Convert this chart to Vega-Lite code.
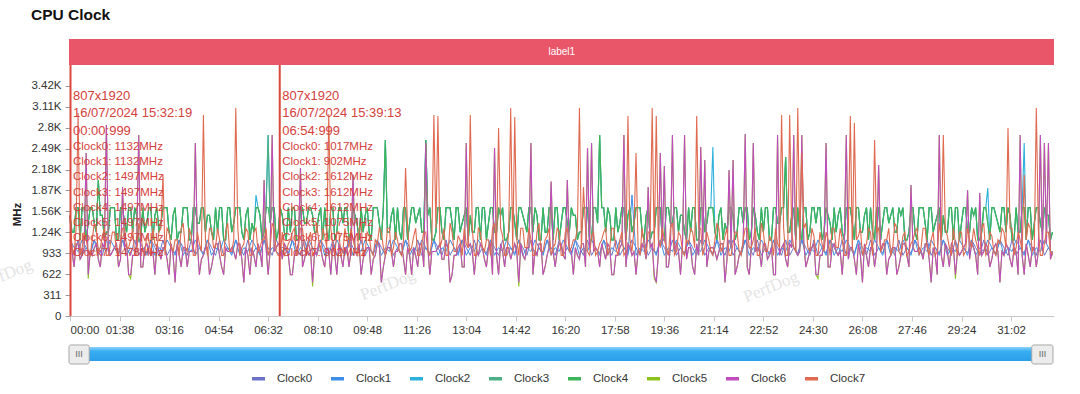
{
"$schema":"https://vega.github.io/schema/vega-lite/v6.json",
"width":984,"height":277,
"autosize":{"type":"none"},
"padding":{"left":70,"top":39,"right":26,"bottom":78},
"background":"#ffffff",
"config":{"view":{"stroke":null},"font":"Liberation Sans"},
"title":{"text":"CPU Clock","anchor":"start","frame":"group","fontSize":15.5,"fontWeight":"bold","color":"#111111","dx":-39,"offset":3.5,"baseline":"alphabetic"},
"datasets":{
"markers":[
{"t":1,"head":"807x1920\n16/07/2024 15:32:19\n00:00:999","clocks":"Clock0: 1132MHz\nClock1: 1132MHz\nClock2: 1497MHz\nClock3: 1497MHz\nClock4: 1497MHz\nClock5: 1497MHz\nClock6: 1497MHz\nClock7: 1478MHz"},
{"t":415,"head":"807x1920\n16/07/2024 15:39:13\n06:54:999","clocks":"Clock0: 1017MHz\nClock1: 902MHz\nClock2: 1612MHz\nClock3: 1612MHz\nClock4: 1612MHz\nClock5: 1075MHz\nClock6: 1075MHz\nClock7: 902MHz"}
],
"little":[
{"t":0,"a":1132,"b":1132},{"t":8,"a":902,"b":1017},{"t":16,"a":1132,"b":960},{"t":24,"a":902,"b":1132},{"t":32,"a":1017,"b":1017},{"t":40,"a":933,"b":902},{"t":48,"a":1132,"b":1132},{"t":56,"a":1017,"b":902},
{"t":64,"a":902,"b":1017},{"t":72,"a":1132,"b":960},{"t":80,"a":902,"b":1132},{"t":88,"a":1017,"b":1017},{"t":96,"a":933,"b":902},{"t":104,"a":1132,"b":1132},{"t":112,"a":1017,"b":902},{"t":120,"a":902,"b":1017},
{"t":128,"a":1132,"b":960},{"t":136,"a":902,"b":1132},{"t":144,"a":1017,"b":1017},{"t":152,"a":933,"b":902},{"t":160,"a":1132,"b":1132},{"t":168,"a":1017,"b":902},{"t":176,"a":902,"b":1017},{"t":184,"a":1132,"b":960},
{"t":192,"a":902,"b":1132},{"t":200,"a":1017,"b":1017},{"t":208,"a":933,"b":902},{"t":216,"a":1132,"b":1132},{"t":224,"a":1017,"b":902},{"t":232,"a":902,"b":1017},{"t":240,"a":1132,"b":960},{"t":248,"a":902,"b":1132},
{"t":256,"a":1017,"b":1017},{"t":264,"a":933,"b":902},{"t":272,"a":1132,"b":1132},{"t":280,"a":1017,"b":902},{"t":288,"a":902,"b":1017},{"t":296,"a":1132,"b":960},{"t":304,"a":902,"b":1132},{"t":312,"a":1017,"b":1017},
{"t":320,"a":933,"b":902},{"t":328,"a":1132,"b":1132},{"t":336,"a":1017,"b":902},{"t":344,"a":902,"b":1017},{"t":352,"a":1132,"b":960},{"t":360,"a":902,"b":1132},{"t":368,"a":1017,"b":1017},{"t":376,"a":933,"b":902},
{"t":384,"a":1132,"b":1132},{"t":392,"a":1017,"b":902},{"t":400,"a":902,"b":1017},{"t":408,"a":1132,"b":960},{"t":416,"a":1017,"b":902},{"t":424,"a":1017,"b":1017},{"t":432,"a":933,"b":902},{"t":440,"a":1132,"b":1132},
{"t":448,"a":1017,"b":902},{"t":456,"a":902,"b":1017},{"t":464,"a":1132,"b":960},{"t":472,"a":902,"b":1132},{"t":480,"a":1017,"b":1017},{"t":488,"a":933,"b":902},{"t":496,"a":1132,"b":1132},{"t":504,"a":1017,"b":902},
{"t":512,"a":902,"b":1017},{"t":520,"a":1132,"b":960},{"t":528,"a":902,"b":1132},{"t":536,"a":1017,"b":1017},{"t":544,"a":933,"b":902},{"t":552,"a":1132,"b":1132},{"t":560,"a":1017,"b":902},{"t":568,"a":902,"b":1017},
{"t":576,"a":1132,"b":960},{"t":584,"a":902,"b":1132},{"t":592,"a":1017,"b":1017},{"t":600,"a":933,"b":902},{"t":608,"a":1132,"b":1132},{"t":616,"a":1017,"b":902},{"t":624,"a":902,"b":1017},{"t":632,"a":1132,"b":960},
{"t":640,"a":902,"b":1132},{"t":648,"a":1017,"b":1017},{"t":656,"a":933,"b":902},{"t":664,"a":1132,"b":1132},{"t":672,"a":1017,"b":902},{"t":680,"a":902,"b":1017},{"t":688,"a":1132,"b":960},{"t":696,"a":902,"b":1132},
{"t":704,"a":1017,"b":1017},{"t":712,"a":933,"b":902},{"t":720,"a":1132,"b":1132},{"t":728,"a":1017,"b":902},{"t":736,"a":902,"b":1017},{"t":744,"a":1132,"b":960},{"t":752,"a":902,"b":1132},{"t":760,"a":1017,"b":1017},
{"t":768,"a":933,"b":902},{"t":776,"a":1132,"b":1132},{"t":784,"a":1017,"b":902},{"t":792,"a":902,"b":1017},{"t":800,"a":1132,"b":960},{"t":808,"a":902,"b":1132},{"t":816,"a":1017,"b":1017},{"t":824,"a":933,"b":902},
{"t":832,"a":1132,"b":1132},{"t":840,"a":1017,"b":902},{"t":848,"a":902,"b":1017},{"t":856,"a":1132,"b":960},{"t":864,"a":902,"b":1132},{"t":872,"a":1017,"b":1017},{"t":880,"a":933,"b":902},{"t":888,"a":1132,"b":1132},
{"t":896,"a":1017,"b":902},{"t":904,"a":902,"b":1017},{"t":912,"a":1132,"b":960},{"t":920,"a":902,"b":1132},{"t":928,"a":1017,"b":1017},{"t":936,"a":933,"b":902},{"t":944,"a":1132,"b":1132},{"t":952,"a":1017,"b":902},
{"t":960,"a":902,"b":1017},{"t":968,"a":1132,"b":960},{"t":976,"a":902,"b":1132},{"t":984,"a":1017,"b":1017},{"t":992,"a":933,"b":902},{"t":1000,"a":1132,"b":1132},{"t":1008,"a":1017,"b":902},{"t":1016,"a":902,"b":1017},
{"t":1024,"a":1132,"b":960},{"t":1032,"a":902,"b":1132},{"t":1040,"a":1017,"b":1017},{"t":1048,"a":933,"b":902},{"t":1056,"a":1132,"b":1132},{"t":1064,"a":1017,"b":902},{"t":1072,"a":902,"b":1017},{"t":1080,"a":1132,"b":960},
{"t":1088,"a":902,"b":1132},{"t":1096,"a":1017,"b":1017},{"t":1104,"a":933,"b":902},{"t":1112,"a":1132,"b":1800},{"t":1120,"a":1017,"b":902},{"t":1128,"a":902,"b":1017},{"t":1136,"a":1132,"b":960},{"t":1144,"a":902,"b":1132},
{"t":1152,"a":1017,"b":1017},{"t":1160,"a":933,"b":902},{"t":1168,"a":1132,"b":1132},{"t":1176,"a":1017,"b":902},{"t":1184,"a":902,"b":1017},{"t":1192,"a":1132,"b":960},{"t":1200,"a":902,"b":1132},{"t":1208,"a":1017,"b":1017},
{"t":1216,"a":933,"b":902},{"t":1224,"a":1132,"b":1132},{"t":1232,"a":1017,"b":902},{"t":1240,"a":902,"b":1017},{"t":1248,"a":1132,"b":960},{"t":1256,"a":902,"b":1132},{"t":1264,"a":1017,"b":1017},{"t":1272,"a":933,"b":902},
{"t":1280,"a":1132,"b":1132},{"t":1288,"a":1017,"b":902},{"t":1296,"a":902,"b":1017},{"t":1304,"a":1132,"b":960},{"t":1312,"a":902,"b":1132},{"t":1320,"a":1017,"b":1017},{"t":1328,"a":933,"b":902},{"t":1336,"a":1132,"b":1132},
{"t":1344,"a":1017,"b":902},{"t":1352,"a":902,"b":1017},{"t":1360,"a":1132,"b":960},{"t":1368,"a":902,"b":1132},{"t":1376,"a":1017,"b":1017},{"t":1384,"a":933,"b":902},{"t":1392,"a":1132,"b":1132},{"t":1400,"a":1017,"b":902},
{"t":1408,"a":902,"b":1017},{"t":1416,"a":1132,"b":960},{"t":1424,"a":902,"b":1132},{"t":1432,"a":1017,"b":1017},{"t":1440,"a":933,"b":902},{"t":1448,"a":1132,"b":1132},{"t":1456,"a":1017,"b":902},{"t":1464,"a":902,"b":1017},
{"t":1472,"a":1132,"b":960},{"t":1480,"a":902,"b":1132},{"t":1488,"a":1017,"b":1017},{"t":1496,"a":933,"b":902},{"t":1504,"a":1132,"b":1132},{"t":1512,"a":1017,"b":902},{"t":1520,"a":902,"b":1017},{"t":1528,"a":1132,"b":960},
{"t":1536,"a":902,"b":1132},{"t":1544,"a":1017,"b":1017},{"t":1552,"a":933,"b":902},{"t":1560,"a":1132,"b":1132},{"t":1568,"a":1017,"b":902},{"t":1576,"a":902,"b":1017},{"t":1584,"a":1132,"b":960},{"t":1592,"a":902,"b":1132},
{"t":1600,"a":1017,"b":1017},{"t":1608,"a":933,"b":902},{"t":1616,"a":1132,"b":1132},{"t":1624,"a":1017,"b":902},{"t":1632,"a":902,"b":1017},{"t":1640,"a":1132,"b":960},{"t":1648,"a":902,"b":1132},{"t":1656,"a":1017,"b":1017},
{"t":1664,"a":933,"b":902},{"t":1672,"a":1132,"b":1132},{"t":1680,"a":1017,"b":902},{"t":1688,"a":902,"b":1017},{"t":1696,"a":1132,"b":960},{"t":1704,"a":902,"b":1132},{"t":1712,"a":1017,"b":1017},{"t":1720,"a":933,"b":902},
{"t":1728,"a":1132,"b":1132},{"t":1736,"a":1017,"b":902},{"t":1744,"a":902,"b":1017},{"t":1752,"a":1132,"b":960},{"t":1760,"a":902,"b":1132},{"t":1768,"a":1017,"b":1017},{"t":1776,"a":933,"b":902},{"t":1784,"a":1132,"b":1132},
{"t":1792,"a":1017,"b":902},{"t":1800,"a":902,"b":1017},{"t":1808,"a":1132,"b":960},{"t":1816,"a":902,"b":1132},{"t":1824,"a":1017,"b":1017},{"t":1832,"a":933,"b":902},{"t":1840,"a":1132,"b":1132},{"t":1848,"a":1017,"b":902},
{"t":1856,"a":902,"b":1017},{"t":1864,"a":1132,"b":960},{"t":1872,"a":902,"b":1132},{"t":1880,"a":1017,"b":1017},{"t":1888,"a":933,"b":902},{"t":1896,"a":1132,"b":1132},{"t":1904,"a":1017,"b":902},{"t":1912,"a":902,"b":1017},
{"t":1920,"a":1132,"b":960},{"t":1928,"a":902,"b":1132},{"t":1936,"a":1017,"b":1017},{"t":1944,"a":933,"b":902}
],
"dense":[
{"t":0,"c":1497,"d":1497,"e":1497,"f":1497,"g":1497,"h":1478},{"t":4,"c":1248,"d":1248,"e":1248,"f":960,"g":960,"h":1017},{"t":8,"c":1248,"d":1248,"e":1248,"f":729,"g":729,"h":902},{"t":12,"c":1612,"d":1612,"e":1612,"f":1075,"g":1075,"h":1305},
{"t":16,"c":1612,"d":1612,"e":1612,"f":1075,"g":1075,"h":3020},{"t":20,"c":1132,"d":1132,"e":1132,"f":844,"g":844,"h":902},{"t":24,"c":1612,"d":1612,"e":1612,"f":902,"g":902,"h":1017},{"t":28,"c":1612,"d":1612,"e":1612,"f":1017,"g":1017,"h":1248},
{"t":32,"c":1132,"d":1132,"e":1132,"f":2424,"g":2424,"h":1132},{"t":36,"c":1382,"d":1382,"e":1382,"f":556,"g":614,"h":960},{"t":40,"c":1612,"d":1612,"e":1612,"f":960,"g":960,"h":902},{"t":44,"c":1612,"d":1612,"e":1612,"f":902,"g":902,"h":1132},
{"t":48,"c":1382,"d":1382,"e":1382,"f":1017,"g":1017,"h":1382},{"t":52,"c":1248,"d":1248,"e":1248,"f":1075,"g":1075,"h":1305},{"t":56,"c":2023,"d":2023,"e":2023,"f":844,"g":844,"h":960},{"t":60,"c":1497,"d":1497,"e":1497,"f":729,"g":729,"h":1017},
{"t":64,"c":1497,"d":1497,"e":1497,"f":1075,"g":1075,"h":1190},{"t":68,"c":1132,"d":1132,"e":1132,"f":1017,"g":1017,"h":1305},{"t":72,"c":1248,"d":1248,"e":1248,"f":2840,"g":2840,"h":902},{"t":76,"c":1248,"d":1248,"e":1248,"f":960,"g":960,"h":902},
{"t":80,"c":1612,"d":1612,"e":1612,"f":902,"g":902,"h":1075},{"t":84,"c":1612,"d":1612,"e":1612,"f":960,"g":960,"h":1248},{"t":88,"c":1612,"d":1612,"e":1612,"f":1017,"g":1017,"h":1248},{"t":92,"c":1132,"d":1132,"e":1132,"f":1075,"g":1075,"h":960},
{"t":96,"c":1132,"d":1132,"e":1132,"f":729,"g":729,"h":902},{"t":100,"c":1612,"d":1612,"e":1612,"f":844,"g":844,"h":1132},{"t":104,"c":1612,"d":1612,"e":1612,"f":1919,"g":1919,"h":1305},{"t":108,"c":1382,"d":1382,"e":1382,"f":1017,"g":1017,"h":1305},
{"t":112,"c":1248,"d":1248,"e":1248,"f":1075,"g":1075,"h":1017},{"t":116,"c":1612,"d":1612,"e":1612,"f":614,"g":614,"h":1017},{"t":120,"c":1612,"d":1612,"e":1612,"f":556,"g":614,"h":1132},{"t":124,"c":1248,"d":1248,"e":1248,"f":902,"g":902,"h":1305},
{"t":128,"c":1612,"d":1612,"e":1612,"f":902,"g":902,"h":902},{"t":132,"c":1497,"d":1497,"e":1497,"f":1075,"g":1075,"h":902},{"t":136,"c":1132,"d":1132,"e":1132,"f":2692,"g":2692,"h":1382},{"t":140,"c":1132,"d":1132,"e":1132,"f":729,"g":729,"h":1248},
{"t":144,"c":1612,"d":1612,"e":1612,"f":729,"g":729,"h":960},{"t":148,"c":1248,"d":1248,"e":1248,"f":1017,"g":1017,"h":960},{"t":152,"c":1382,"d":1382,"e":1382,"f":1075,"g":1075,"h":1190},{"t":156,"c":1612,"d":1612,"e":1612,"f":960,"g":960,"h":1132},
{"t":160,"c":1612,"d":1612,"e":1612,"f":902,"g":902,"h":902},{"t":164,"c":1132,"d":1132,"e":1132,"f":960,"g":960,"h":1305},{"t":168,"c":1497,"d":1497,"e":1497,"f":614,"g":614,"h":1075},{"t":172,"c":1612,"d":1612,"e":1612,"f":1075,"g":1075,"h":1017},
{"t":176,"c":1248,"d":1248,"e":1248,"f":960,"g":960,"h":1248},{"t":180,"c":1382,"d":1382,"e":1382,"f":844,"g":844,"h":1305},{"t":184,"c":1612,"d":1612,"e":1612,"f":1017,"g":1017,"h":2100},{"t":188,"c":1612,"d":1612,"e":1612,"f":1017,"g":1017,"h":902},
{"t":192,"c":1612,"d":1612,"e":1612,"f":844,"g":844,"h":1305},{"t":196,"c":1248,"d":1248,"e":1248,"f":614,"g":614,"h":1248},{"t":200,"c":1132,"d":1132,"e":1132,"f":1075,"g":1075,"h":1017},{"t":204,"c":1497,"d":1497,"e":1497,"f":902,"g":902,"h":960},
{"t":208,"c":1612,"d":1612,"e":1612,"f":499,"g":499,"h":1132},{"t":212,"c":1132,"d":1132,"e":1132,"f":1075,"g":1075,"h":1132},{"t":216,"c":1248,"d":1248,"e":1248,"f":902,"g":902,"h":902},{"t":220,"c":1248,"d":1248,"e":1248,"f":729,"g":729,"h":1305},
{"t":224,"c":1612,"d":1612,"e":1612,"f":1017,"g":1017,"h":1382},{"t":228,"c":1612,"d":1612,"e":1612,"f":1017,"g":1017,"h":1017},{"t":232,"c":1612,"d":1612,"e":1612,"f":729,"g":729,"h":960},{"t":236,"c":1132,"d":1132,"e":1132,"f":960,"g":960,"h":1305},
{"t":240,"c":1132,"d":1132,"e":1132,"f":960,"g":960,"h":1190},{"t":244,"c":1612,"d":1612,"e":1612,"f":960,"g":960,"h":902},{"t":248,"c":1612,"d":1612,"e":1612,"f":2573,"g":2573,"h":902},{"t":252,"c":1382,"d":1382,"e":1382,"f":1075,"g":1075,"h":1248},
{"t":256,"c":1382,"d":1382,"e":1382,"f":614,"g":614,"h":1075},{"t":260,"c":1612,"d":1612,"e":1612,"f":844,"g":844,"h":960},{"t":264,"c":1612,"d":1612,"e":1612,"f":902,"g":902,"h":2990},{"t":268,"c":1248,"d":1248,"e":1248,"f":1017,"g":1017,"h":1132},
{"t":272,"c":1497,"d":1497,"e":1497,"f":1017,"g":1017,"h":902},{"t":276,"c":1497,"d":1497,"e":1497,"f":614,"g":614,"h":1305},{"t":280,"c":1248,"d":1248,"e":1248,"f":729,"g":729,"h":1305},{"t":284,"c":1132,"d":1132,"e":1132,"f":902,"g":902,"h":1017},
{"t":288,"c":1612,"d":1612,"e":1612,"f":1075,"g":1075,"h":1017},{"t":292,"c":1248,"d":1248,"e":1248,"f":1075,"g":1075,"h":1305},{"t":296,"c":1612,"d":1612,"e":1612,"f":902,"g":902,"h":1132},{"t":300,"c":1612,"d":1612,"e":1612,"f":729,"g":729,"h":902},
{"t":304,"c":1132,"d":1132,"e":1132,"f":614,"g":614,"h":902},{"t":308,"c":1132,"d":1132,"e":1132,"f":1017,"g":1017,"h":1248},{"t":312,"c":1612,"d":1612,"e":1612,"f":960,"g":960,"h":1382},{"t":316,"c":1612,"d":1612,"e":1612,"f":960,"g":960,"h":960},
{"t":320,"c":1248,"d":1248,"e":1248,"f":1017,"g":1017,"h":960},{"t":324,"c":1382,"d":1382,"e":1382,"f":960,"g":960,"h":1132},{"t":328,"c":1612,"d":1612,"e":1612,"f":844,"g":844,"h":3094},{"t":332,"c":1612,"d":1612,"e":1612,"f":1075,"g":1075,"h":1305},
{"t":336,"c":1612,"d":1612,"e":1612,"f":1075,"g":1075,"h":902},{"t":340,"c":1248,"d":1248,"e":1248,"f":844,"g":844,"h":1017},{"t":344,"c":1132,"d":1132,"e":1132,"f":499,"g":499,"h":1075},{"t":348,"c":1497,"d":1497,"e":1497,"f":1017,"g":1017,"h":1305},
{"t":352,"c":1612,"d":1612,"e":1612,"f":902,"g":902,"h":1248},{"t":356,"c":1132,"d":1132,"e":1132,"f":614,"g":614,"h":902},{"t":360,"c":1382,"d":1382,"e":1382,"f":1017,"g":1017,"h":902},{"t":364,"c":1248,"d":1248,"e":1248,"f":902,"g":902,"h":1248},
{"t":368,"c":1800,"d":1612,"e":1612,"f":729,"g":729,"h":1305},{"t":372,"c":1612,"d":1612,"e":1612,"f":1075,"g":1075,"h":960},{"t":376,"c":1497,"d":1497,"e":1497,"f":960,"g":960,"h":1017},{"t":380,"c":1132,"d":1132,"e":1132,"f":729,"g":729,"h":1132},
{"t":384,"c":1248,"d":1248,"e":1248,"f":2023,"g":2023,"h":1132},{"t":388,"c":1612,"d":1612,"e":1612,"f":1017,"g":1017,"h":1305},{"t":392,"c":2692,"d":2692,"e":1612,"f":614,"g":614,"h":902},{"t":396,"c":1382,"d":1382,"e":1382,"f":960,"g":960,"h":1017},
{"t":400,"c":1612,"d":1612,"e":1612,"f":2692,"g":2692,"h":1382},{"t":404,"c":1612,"d":1612,"e":1612,"f":960,"g":960,"h":1305},{"t":408,"c":1132,"d":1132,"e":1132,"f":1017,"g":1017,"h":960},{"t":412,"c":1248,"d":1248,"e":1248,"f":1075,"g":1075,"h":902},
{"t":416,"c":1612,"d":1612,"e":1612,"f":1075,"g":1075,"h":902},{"t":420,"c":1497,"d":1497,"e":1497,"f":844,"g":844,"h":1248},{"t":424,"c":1248,"d":1248,"e":1248,"f":1075,"g":1075,"h":902},{"t":428,"c":1132,"d":1132,"e":1132,"f":1017,"g":1017,"h":960},
{"t":432,"c":1612,"d":1612,"e":1612,"f":902,"g":902,"h":1075},{"t":436,"c":1248,"d":1248,"e":1248,"f":614,"g":614,"h":1132},{"t":440,"c":1612,"d":1612,"e":1612,"f":614,"g":614,"h":1248},{"t":444,"c":1612,"d":1612,"e":1612,"f":902,"g":902,"h":1305},
{"t":448,"c":1132,"d":1132,"e":1132,"f":960,"g":960,"h":902},{"t":452,"c":1132,"d":1132,"e":1132,"f":1075,"g":1075,"h":1017},{"t":456,"c":1612,"d":1612,"e":1612,"f":2200,"g":2200,"h":1305},{"t":460,"c":1612,"d":1612,"e":1612,"f":729,"g":729,"h":1305},
{"t":464,"c":1382,"d":1382,"e":1382,"f":844,"g":844,"h":1017},{"t":468,"c":1382,"d":1382,"e":1382,"f":1017,"g":1017,"h":902},{"t":472,"c":1612,"d":1612,"e":1612,"f":1075,"g":1075,"h":1132},{"t":476,"c":1612,"d":1612,"e":1612,"f":960,"g":960,"h":1248},
{"t":480,"c":1497,"d":1497,"e":1497,"f":441,"g":499,"h":902},{"t":484,"c":1248,"d":1248,"e":1248,"f":960,"g":960,"h":960},{"t":488,"c":1248,"d":1248,"e":1248,"f":902,"g":902,"h":1382},{"t":492,"c":1497,"d":1497,"e":1497,"f":1075,"g":1075,"h":1132},
{"t":496,"c":1612,"d":1612,"e":1612,"f":1017,"g":1017,"h":960},{"t":500,"c":1132,"d":1132,"e":1132,"f":844,"g":844,"h":1305},{"t":504,"c":1612,"d":1612,"e":1612,"f":729,"g":729,"h":1190},{"t":508,"c":1248,"d":1248,"e":1248,"f":1017,"g":1017,"h":1017},
{"t":512,"c":1132,"d":1132,"e":1132,"f":960,"g":960,"h":3000},{"t":516,"c":1612,"d":1612,"e":1612,"f":614,"g":614,"h":1305},{"t":520,"c":1612,"d":1612,"e":1612,"f":1075,"g":1075,"h":1075},{"t":524,"c":1132,"d":1132,"e":1132,"f":902,"g":902,"h":902},
{"t":528,"c":1248,"d":1248,"e":1248,"f":614,"g":614,"h":1248},{"t":532,"c":1612,"d":1612,"e":1612,"f":1075,"g":1075,"h":1248},{"t":536,"c":1612,"d":1612,"e":1612,"f":902,"g":902,"h":902},{"t":540,"c":1382,"d":1382,"e":1382,"f":729,"g":729,"h":960},
{"t":544,"c":1612,"d":1612,"e":1612,"f":1017,"g":1017,"h":1305},{"t":548,"c":1612,"d":1612,"e":1612,"f":1017,"g":1017,"h":1132},{"t":552,"c":1132,"d":1132,"e":1132,"f":729,"g":729,"h":1017},{"t":556,"c":1248,"d":1248,"e":1248,"f":960,"g":960,"h":1305},
{"t":560,"c":1612,"d":1612,"e":1612,"f":2100,"g":2100,"h":1132},{"t":564,"c":1497,"d":1497,"e":1497,"f":960,"g":960,"h":1017},{"t":568,"c":1382,"d":1382,"e":1382,"f":902,"g":902,"h":902},{"t":572,"c":1132,"d":1132,"e":1132,"f":1075,"g":1075,"h":1305},
{"t":576,"c":1612,"d":1612,"e":1612,"f":614,"g":614,"h":1382},{"t":580,"c":1248,"d":1248,"e":1248,"f":844,"g":844,"h":902},{"t":584,"c":1497,"d":1497,"e":1497,"f":960,"g":960,"h":960},{"t":588,"c":1612,"d":1612,"e":1612,"f":1017,"g":1017,"h":1248},
{"t":592,"c":1248,"d":1248,"e":1248,"f":1017,"g":1017,"h":1190},{"t":596,"c":1132,"d":1132,"e":1132,"f":614,"g":614,"h":960},{"t":600,"c":1612,"d":1612,"e":1612,"f":844,"g":844,"h":902},{"t":604,"c":1612,"d":1612,"e":1612,"f":902,"g":902,"h":1132},
{"t":608,"c":1612,"d":1612,"e":1612,"f":1075,"g":1075,"h":1075},{"t":612,"c":1382,"d":1382,"e":1382,"f":1075,"g":1075,"h":1305},{"t":616,"c":1132,"d":1132,"e":1132,"f":499,"g":499,"h":1248},{"t":620,"c":1612,"d":1612,"e":1612,"f":729,"g":729,"h":1017},
{"t":624,"c":2618,"d":2618,"e":2618,"f":902,"g":902,"h":902},{"t":628,"c":1248,"d":1248,"e":1248,"f":1017,"g":1017,"h":1305},{"t":632,"c":1248,"d":1248,"e":1248,"f":1017,"g":1017,"h":1305},{"t":636,"c":1497,"d":1497,"e":1497,"f":960,"g":960,"h":902},
{"t":640,"c":1612,"d":1612,"e":1612,"f":729,"g":729,"h":1017},{"t":644,"c":1132,"d":1132,"e":1132,"f":960,"g":960,"h":1248},{"t":648,"c":1612,"d":1612,"e":1612,"f":960,"g":960,"h":1132},{"t":652,"c":1248,"d":1248,"e":1248,"f":1075,"g":1075,"h":960},
{"t":656,"c":1132,"d":1132,"e":1132,"f":1075,"g":1075,"h":902},{"t":660,"c":1612,"d":1612,"e":1612,"f":844,"g":844,"h":1132},{"t":664,"c":1612,"d":1612,"e":1612,"f":614,"g":614,"h":2200},{"t":668,"c":1132,"d":1132,"e":1132,"f":1017,"g":1017,"h":1305},
{"t":672,"c":1382,"d":1382,"e":1382,"f":902,"g":902,"h":960},{"t":676,"c":1612,"d":1612,"e":1612,"f":614,"g":614,"h":1017},{"t":680,"c":1612,"d":1612,"e":1612,"f":1017,"g":1017,"h":1190},{"t":684,"c":1382,"d":1382,"e":1382,"f":902,"g":902,"h":1305},
{"t":688,"c":1497,"d":1497,"e":1497,"f":729,"g":729,"h":902},{"t":692,"c":1612,"d":1612,"e":1612,"f":1075,"g":1075,"h":902},{"t":696,"c":1248,"d":1248,"e":1248,"f":1075,"g":1075,"h":1075},{"t":700,"c":1248,"d":1248,"e":1248,"f":729,"g":729,"h":1248},
{"t":704,"c":2618,"d":2618,"e":2618,"f":2573,"g":2573,"h":1248},{"t":708,"c":1497,"d":1497,"e":1497,"f":1017,"g":1017,"h":960},{"t":712,"c":1612,"d":1612,"e":1612,"f":614,"g":614,"h":902},{"t":716,"c":1132,"d":1132,"e":1132,"f":960,"g":960,"h":1132},
{"t":720,"c":1132,"d":1132,"e":1132,"f":960,"g":960,"h":2990},{"t":724,"c":1248,"d":1248,"e":1248,"f":960,"g":960,"h":1305},{"t":728,"c":1612,"d":1612,"e":1612,"f":1017,"g":1017,"h":2975},{"t":732,"c":1612,"d":1612,"e":1612,"f":1075,"g":1075,"h":1017},
{"t":736,"c":1248,"d":1248,"e":1248,"f":844,"g":844,"h":1132},{"t":740,"c":1132,"d":1132,"e":1132,"f":844,"g":844,"h":1305},{"t":744,"c":1612,"d":1612,"e":1612,"f":1075,"g":1075,"h":902},{"t":748,"c":1612,"d":1612,"e":1612,"f":1017,"g":1017,"h":902},
{"t":752,"c":1612,"d":1612,"e":1612,"f":499,"g":499,"h":1382},{"t":756,"c":1382,"d":1382,"e":1382,"f":614,"g":614,"h":1248},{"t":760,"c":1132,"d":1132,"e":1132,"f":902,"g":902,"h":960},{"t":764,"c":1612,"d":1612,"e":1612,"f":902,"g":902,"h":960},
{"t":768,"c":1612,"d":1612,"e":1612,"f":1017,"g":1017,"h":1190},{"t":772,"c":1248,"d":1248,"e":1248,"f":1075,"g":1075,"h":1132},{"t":776,"c":1382,"d":1382,"e":1382,"f":729,"g":729,"h":902},{"t":780,"c":1497,"d":1497,"e":1497,"f":729,"g":729,"h":1305},
{"t":784,"c":1612,"d":1612,"e":1612,"f":2573,"g":2573,"h":1075},{"t":788,"c":1132,"d":1132,"e":1132,"f":1017,"g":1017,"h":1017},{"t":792,"c":1497,"d":1497,"e":1497,"f":1075,"g":1075,"h":2990},{"t":796,"c":1248,"d":1248,"e":1248,"f":960,"g":960,"h":1305},
{"t":800,"c":1248,"d":1248,"e":1248,"f":614,"g":614,"h":902},{"t":804,"c":1612,"d":1612,"e":1612,"f":960,"g":960,"h":902},{"t":808,"c":1612,"d":1612,"e":1612,"f":902,"g":902,"h":1305},{"t":812,"c":1132,"d":1132,"e":1132,"f":1075,"g":1075,"h":1248},
{"t":816,"c":1612,"d":1612,"e":1612,"f":1017,"g":1017,"h":1017},{"t":820,"c":1612,"d":1612,"e":1612,"f":844,"g":844,"h":960},{"t":824,"c":1132,"d":1132,"e":1132,"f":729,"g":729,"h":1132},{"t":828,"c":1382,"d":1382,"e":1382,"f":1017,"g":1017,"h":1132},
{"t":832,"c":1612,"d":1612,"e":1612,"f":1075,"g":1075,"h":902},{"t":836,"c":1612,"d":1612,"e":1612,"f":614,"g":614,"h":1305},{"t":840,"c":1248,"d":1248,"e":1248,"f":2500,"g":2500,"h":1382},{"t":844,"c":1248,"d":1248,"e":1248,"f":902,"g":902,"h":1017},
{"t":848,"c":1612,"d":1612,"e":1612,"f":614,"g":614,"h":2796},{"t":852,"c":1497,"d":1497,"e":1497,"f":1075,"g":1075,"h":1305},{"t":856,"c":1612,"d":1612,"e":1612,"f":960,"g":960,"h":1190},{"t":860,"c":1132,"d":1132,"e":1132,"f":729,"g":729,"h":902},
{"t":864,"c":1132,"d":1132,"e":1132,"f":1017,"g":1017,"h":902},{"t":868,"c":1248,"d":1248,"e":1248,"f":1017,"g":1017,"h":1248},{"t":872,"c":1612,"d":1612,"e":1612,"f":844,"g":844,"h":3094},{"t":876,"c":1612,"d":1612,"e":1612,"f":960,"g":960,"h":960},
{"t":880,"c":1382,"d":1382,"e":1382,"f":1075,"g":1075,"h":2960},{"t":884,"c":1132,"d":1132,"e":1132,"f":960,"g":960,"h":1132},{"t":888,"c":1612,"d":1612,"e":1612,"f":441,"g":499,"h":902},{"t":892,"c":1612,"d":1612,"e":1612,"f":1075,"g":1075,"h":1305},
{"t":896,"c":1497,"d":1497,"e":1497,"f":902,"g":902,"h":1305},{"t":900,"c":1382,"d":1382,"e":1382,"f":844,"g":844,"h":1017},{"t":904,"c":1248,"d":1248,"e":1248,"f":1017,"g":1017,"h":1017},{"t":908,"c":1612,"d":1612,"e":1612,"f":1017,"g":1017,"h":1305},
{"t":912,"c":1612,"d":1612,"e":1612,"f":2573,"g":2573,"h":1132},{"t":916,"c":1248,"d":1248,"e":1248,"f":614,"g":614,"h":902},{"t":920,"c":1612,"d":1612,"e":1612,"f":960,"g":960,"h":902},{"t":924,"c":1497,"d":1497,"e":1497,"f":902,"g":902,"h":1248},
{"t":928,"c":1132,"d":1132,"e":1132,"f":1075,"g":1075,"h":1382},{"t":932,"c":1132,"d":1132,"e":1132,"f":1075,"g":1075,"h":960},{"t":936,"c":1612,"d":1612,"e":1612,"f":614,"g":614,"h":960},{"t":940,"c":1248,"d":1248,"e":1248,"f":729,"g":729,"h":1132},
{"t":944,"c":1248,"d":1248,"e":1248,"f":902,"g":902,"h":1190},{"t":948,"c":1612,"d":1612,"e":1612,"f":1017,"g":1017,"h":1305},{"t":952,"c":1612,"d":1612,"e":1612,"f":2000,"g":2000,"h":902},{"t":956,"c":1132,"d":1132,"e":1132,"f":960,"g":960,"h":1017},
{"t":960,"c":1612,"d":1612,"e":1612,"f":729,"g":729,"h":1075},{"t":964,"c":1612,"d":1612,"e":1612,"f":960,"g":960,"h":1305},{"t":968,"c":1132,"d":1132,"e":1132,"f":1075,"g":1075,"h":1248},{"t":972,"c":1382,"d":1382,"e":1382,"f":1075,"g":1075,"h":902},
{"t":976,"c":1612,"d":1612,"e":1612,"f":902,"g":902,"h":902},{"t":980,"c":1612,"d":1612,"e":1612,"f":844,"g":844,"h":1248},{"t":984,"c":1382,"d":1382,"e":1382,"f":2023,"g":2023,"h":1305},{"t":988,"c":1248,"d":1248,"e":1248,"f":1017,"g":1017,"h":960},
{"t":992,"c":1612,"d":1612,"e":1612,"f":960,"g":960,"h":1017},{"t":996,"c":1497,"d":1497,"e":1497,"f":614,"g":614,"h":1132},{"t":1000,"c":1497,"d":1497,"e":1497,"f":1017,"g":1017,"h":1132},{"t":1004,"c":1132,"d":1132,"e":1132,"f":902,"g":902,"h":1305},
{"t":1008,"c":1248,"d":1248,"e":1248,"f":844,"g":844,"h":3094},{"t":1012,"c":1248,"d":1248,"e":1248,"f":1075,"g":1075,"h":1017},{"t":1016,"c":1612,"d":1612,"e":1612,"f":1075,"g":1075,"h":1919},{"t":1020,"c":1612,"d":1612,"e":1612,"f":729,"g":729,"h":1305},
{"t":1024,"c":1612,"d":1612,"e":1612,"f":2499,"g":2499,"h":960},{"t":1028,"c":1132,"d":1132,"e":1132,"f":1017,"g":1017,"h":902},{"t":1032,"c":1132,"d":1132,"e":1132,"f":2573,"g":2573,"h":1190},{"t":1036,"c":1612,"d":1612,"e":1612,"f":960,"g":960,"h":1248},
{"t":1040,"c":1612,"d":1612,"e":1612,"f":1017,"g":1017,"h":902},{"t":1044,"c":1382,"d":1382,"e":1382,"f":960,"g":960,"h":960},{"t":1048,"c":2692,"d":2692,"e":2692,"f":729,"g":729,"h":1075},{"t":1052,"c":1612,"d":1612,"e":1612,"f":1075,"g":1075,"h":1132},
{"t":1056,"c":1612,"d":1612,"e":1612,"f":960,"g":960,"h":1248},{"t":1060,"c":1248,"d":1248,"e":1248,"f":844,"g":844,"h":1305},{"t":1064,"c":1612,"d":1612,"e":1612,"f":1075,"g":1075,"h":902},{"t":1068,"c":1497,"d":1497,"e":1497,"f":1017,"g":1017,"h":1017},
{"t":1072,"c":1132,"d":1132,"e":1132,"f":614,"g":614,"h":1305},{"t":1076,"c":1132,"d":1132,"e":1132,"f":614,"g":614,"h":1305},{"t":1080,"c":1612,"d":1612,"e":1612,"f":902,"g":902,"h":1017},{"t":1084,"c":1248,"d":1248,"e":1248,"f":902,"g":902,"h":902},
{"t":1088,"c":1382,"d":1382,"e":1382,"f":1017,"g":1017,"h":1132},{"t":1092,"c":1612,"d":1612,"e":1612,"f":1075,"g":1075,"h":1248},{"t":1096,"c":1612,"d":1612,"e":1612,"f":2692,"g":2692,"h":902},{"t":1100,"c":1132,"d":1132,"e":1132,"f":729,"g":729,"h":960},
{"t":1104,"c":1497,"d":1497,"e":1497,"f":1075,"g":1075,"h":2975},{"t":1108,"c":1612,"d":1612,"e":1612,"f":1017,"g":1017,"h":1132},{"t":1112,"c":1248,"d":1248,"e":1248,"f":902,"g":902,"h":960},{"t":1116,"c":1382,"d":1382,"e":1382,"f":960,"g":960,"h":1305},
{"t":1120,"c":1612,"d":1612,"e":1612,"f":614,"g":614,"h":2424},{"t":1124,"c":1612,"d":1612,"e":1612,"f":960,"g":960,"h":1017},{"t":1128,"c":1612,"d":1612,"e":1612,"f":960,"g":960,"h":902},{"t":1132,"c":1248,"d":1248,"e":1248,"f":1075,"g":1075,"h":1305},
{"t":1136,"c":1132,"d":1132,"e":1132,"f":1017,"g":1017,"h":1075},{"t":1140,"c":1497,"d":1497,"e":1497,"f":844,"g":844,"h":902},{"t":1144,"c":1612,"d":1612,"e":1612,"f":1919,"g":1919,"h":1248},{"t":1148,"c":1132,"d":1132,"e":1132,"f":1017,"g":1017,"h":1248},
{"t":1152,"c":1248,"d":1248,"e":1248,"f":1075,"g":1075,"h":3094},{"t":1156,"c":1248,"d":1248,"e":1248,"f":556,"g":614,"h":960},{"t":1160,"c":1612,"d":1612,"e":1612,"f":499,"g":499,"h":2975},{"t":1164,"c":1612,"d":1612,"e":1612,"f":902,"g":902,"h":1132},
{"t":1168,"c":1612,"d":1612,"e":1612,"f":2424,"g":2424,"h":1017},{"t":1172,"c":1132,"d":1132,"e":1132,"f":1075,"g":1075,"h":1305},{"t":1176,"c":1132,"d":1132,"e":1132,"f":2231,"g":2231,"h":1132},{"t":1180,"c":1612,"d":1612,"e":1612,"f":729,"g":729,"h":1017},
{"t":1184,"c":1612,"d":1612,"e":1612,"f":729,"g":729,"h":902},{"t":1188,"c":1382,"d":1382,"e":1382,"f":1017,"g":1017,"h":1305},{"t":1192,"c":1382,"d":1382,"e":1382,"f":2692,"g":2692,"h":1382},{"t":1196,"c":1612,"d":1612,"e":1612,"f":960,"g":960,"h":902},
{"t":1200,"c":1612,"d":1612,"e":1612,"f":1075,"g":1075,"h":960},{"t":1204,"c":1248,"d":1248,"e":1248,"f":960,"g":960,"h":1248},{"t":1208,"c":1497,"d":1497,"e":1497,"f":614,"g":614,"h":1190},{"t":1212,"c":1497,"d":1497,"e":1497,"f":1075,"g":1075,"h":960},
{"t":1216,"c":1248,"d":1248,"e":1248,"f":2692,"g":2692,"h":902},{"t":1220,"c":1132,"d":1132,"e":1132,"f":844,"g":844,"h":1132},{"t":1224,"c":1612,"d":1612,"e":1612,"f":1017,"g":1017,"h":1075},{"t":1228,"c":1248,"d":1248,"e":1248,"f":1017,"g":1017,"h":1305},
{"t":1232,"c":1612,"d":1612,"e":1612,"f":729,"g":729,"h":1248},{"t":1236,"c":1612,"d":1612,"e":1612,"f":614,"g":614,"h":1017},{"t":1240,"c":1132,"d":1132,"e":1132,"f":1075,"g":1075,"h":2975},{"t":1244,"c":1132,"d":1132,"e":1132,"f":902,"g":902,"h":1305},
{"t":1248,"c":1612,"d":1612,"e":1612,"f":2514,"g":2514,"h":1305},{"t":1252,"c":1612,"d":1612,"e":1612,"f":1075,"g":1075,"h":902},{"t":1256,"c":1248,"d":1248,"e":1248,"f":2320,"g":2320,"h":1017},{"t":1260,"c":1382,"d":1382,"e":1382,"f":729,"g":729,"h":1248},
{"t":1264,"c":1612,"d":1612,"e":1612,"f":960,"g":960,"h":1132},{"t":1268,"c":1612,"d":1612,"e":1612,"f":1017,"g":1017,"h":960},{"t":1272,"c":2514,"d":1612,"e":1612,"f":1017,"g":1017,"h":902},{"t":1276,"c":1248,"d":1248,"e":1248,"f":960,"g":960,"h":1132},
{"t":1280,"c":1132,"d":1132,"e":1132,"f":844,"g":844,"h":1382},{"t":1284,"c":1497,"d":1497,"e":1497,"f":960,"g":960,"h":1305},{"t":1288,"c":1612,"d":1612,"e":1612,"f":1075,"g":1075,"h":960},{"t":1292,"c":1132,"d":1132,"e":1132,"f":1075,"g":1075,"h":1017},
{"t":1296,"c":1382,"d":1382,"e":1382,"f":499,"g":499,"h":1190},{"t":1300,"c":1248,"d":1248,"e":1248,"f":844,"g":844,"h":1305},{"t":1304,"c":1612,"d":1612,"e":1612,"f":2171,"g":2171,"h":902},{"t":1308,"c":1612,"d":1612,"e":1612,"f":1017,"g":1017,"h":902},
{"t":1312,"c":1497,"d":1497,"e":1497,"f":2320,"g":2320,"h":1075},{"t":1316,"c":1132,"d":1132,"e":1132,"f":614,"g":614,"h":1248},{"t":1320,"c":1248,"d":1248,"e":1248,"f":729,"g":729,"h":1248},{"t":1324,"c":1612,"d":1612,"e":1612,"f":902,"g":902,"h":960},
{"t":1328,"c":1612,"d":1612,"e":1612,"f":960,"g":960,"h":902},{"t":1332,"c":1382,"d":1382,"e":1382,"f":1075,"g":1075,"h":1132},{"t":1336,"c":1612,"d":1612,"e":1612,"f":2707,"g":2707,"h":1305},{"t":1340,"c":1612,"d":1612,"e":1612,"f":729,"g":729,"h":1305},
{"t":1344,"c":1132,"d":1132,"e":1132,"f":614,"g":614,"h":1017},{"t":1348,"c":1248,"d":1248,"e":1248,"f":1017,"g":1017,"h":1017},{"t":1352,"c":1612,"d":1612,"e":1612,"f":2573,"g":2573,"h":1132},{"t":1356,"c":1497,"d":1497,"e":1497,"f":960,"g":960,"h":1305},
{"t":1360,"c":1248,"d":1248,"e":1248,"f":1017,"g":1017,"h":902},{"t":1364,"c":1132,"d":1132,"e":1132,"f":960,"g":960,"h":902},{"t":1368,"c":1612,"d":1612,"e":1612,"f":729,"g":729,"h":1382},{"t":1372,"c":1248,"d":1248,"e":1248,"f":1075,"g":1075,"h":1248},
{"t":1376,"c":1612,"d":1612,"e":1612,"f":1075,"g":1075,"h":960},{"t":1380,"c":1612,"d":1612,"e":1612,"f":844,"g":844,"h":960},{"t":1384,"c":1132,"d":1132,"e":1132,"f":902,"g":902,"h":1190},{"t":1388,"c":1132,"d":1132,"e":1132,"f":1017,"g":1017,"h":1132},
{"t":1392,"c":1612,"d":1612,"e":1612,"f":614,"g":614,"h":902},{"t":1396,"c":1612,"d":1612,"e":1612,"f":614,"g":614,"h":1305},{"t":1400,"c":1382,"d":1382,"e":1382,"f":2692,"g":2692,"h":1075},{"t":1404,"c":1382,"d":1382,"e":1382,"f":902,"g":902,"h":1017},
{"t":1408,"c":1612,"d":1612,"e":1612,"f":1017,"g":1017,"h":2990},{"t":1412,"c":1612,"d":1612,"e":1612,"f":1075,"g":1075,"h":1305},{"t":1416,"c":2365,"d":2365,"e":2365,"f":844,"g":844,"h":902},{"t":1420,"c":1248,"d":1248,"e":1248,"f":729,"g":729,"h":902},
{"t":1424,"c":1248,"d":1248,"e":1248,"f":1075,"g":1075,"h":2990},{"t":1428,"c":1497,"d":1497,"e":1497,"f":1017,"g":1017,"h":1248},{"t":1432,"c":1612,"d":1612,"e":1612,"f":2692,"g":2692,"h":1017},{"t":1436,"c":1132,"d":1132,"e":1132,"f":960,"g":960,"h":960},
{"t":1440,"c":1612,"d":1612,"e":1612,"f":902,"g":902,"h":3094},{"t":1444,"c":1248,"d":1248,"e":1248,"f":960,"g":960,"h":1132},{"t":1448,"c":1132,"d":1132,"e":1132,"f":2692,"g":2692,"h":2424},{"t":1452,"c":1612,"d":1612,"e":1612,"f":1075,"g":1075,"h":1305},
{"t":1456,"c":1612,"d":1612,"e":1612,"f":729,"g":729,"h":1382},{"t":1460,"c":1132,"d":1132,"e":1132,"f":844,"g":844,"h":1017},{"t":1464,"c":1248,"d":1248,"e":1248,"f":960,"g":960,"h":960},{"t":1468,"c":1612,"d":1612,"e":1612,"f":1017,"g":1017,"h":1305},
{"t":1472,"c":1612,"d":1612,"e":1612,"f":1075,"g":1075,"h":1190},{"t":1476,"c":1382,"d":1382,"e":1382,"f":614,"g":614,"h":902},{"t":1480,"c":1612,"d":1612,"e":1612,"f":556,"g":614,"h":902},{"t":1484,"c":1612,"d":1612,"e":1612,"f":902,"g":902,"h":1248},
{"t":1488,"c":1132,"d":1132,"e":1132,"f":902,"g":902,"h":1075},{"t":1492,"c":1248,"d":1248,"e":1248,"f":1075,"g":1075,"h":960},{"t":1496,"c":1612,"d":1612,"e":1612,"f":2573,"g":2573,"h":1248},{"t":1500,"c":1497,"d":1497,"e":1497,"f":729,"g":729,"h":1132},
{"t":1504,"c":1382,"d":1382,"e":1382,"f":729,"g":729,"h":902},{"t":1508,"c":1132,"d":1132,"e":1132,"f":1017,"g":1017,"h":1305},{"t":1512,"c":1612,"d":1612,"e":1612,"f":1075,"g":1075,"h":1305},{"t":1516,"c":1248,"d":1248,"e":1248,"f":960,"g":960,"h":1017},
{"t":1520,"c":1497,"d":1497,"e":1497,"f":902,"g":902,"h":1017},{"t":1524,"c":1612,"d":1612,"e":1612,"f":960,"g":960,"h":1305},{"t":1528,"c":1248,"d":1248,"e":1248,"f":614,"g":614,"h":1132},{"t":1532,"c":1132,"d":1132,"e":1132,"f":1075,"g":1075,"h":902},
{"t":1536,"c":1612,"d":1612,"e":1612,"f":2692,"g":2692,"h":902},{"t":1540,"c":1612,"d":1612,"e":1612,"f":844,"g":844,"h":1248},{"t":1544,"c":1612,"d":1612,"e":1612,"f":1017,"g":1017,"h":2975},{"t":1548,"c":1382,"d":1382,"e":1382,"f":1017,"g":1017,"h":960},
{"t":1552,"c":1132,"d":1132,"e":1132,"f":844,"g":844,"h":2870},{"t":1556,"c":1612,"d":1612,"e":1612,"f":614,"g":614,"h":1132},{"t":1560,"c":1612,"d":1612,"e":1612,"f":1075,"g":1075,"h":1190},{"t":1564,"c":1248,"d":1248,"e":1248,"f":902,"g":902,"h":1305},
{"t":1568,"c":1248,"d":1248,"e":1248,"f":499,"g":499,"h":902},{"t":1572,"c":1497,"d":1497,"e":1497,"f":1075,"g":1075,"h":1017},{"t":1576,"c":1612,"d":1612,"e":1612,"f":902,"g":902,"h":1075},{"t":1580,"c":1132,"d":1132,"e":1132,"f":729,"g":729,"h":1305},
{"t":1584,"c":1612,"d":1612,"e":1612,"f":1017,"g":1017,"h":1248},{"t":1588,"c":1248,"d":1248,"e":1248,"f":1017,"g":1017,"h":902},{"t":1592,"c":1132,"d":1132,"e":1132,"f":729,"g":729,"h":2618},{"t":1596,"c":1612,"d":1612,"e":1612,"f":960,"g":960,"h":1248},
{"t":1600,"c":1612,"d":1612,"e":1612,"f":2246,"g":2246,"h":1305},{"t":1604,"c":1132,"d":1132,"e":1132,"f":960,"g":960,"h":960},{"t":1608,"c":1382,"d":1382,"e":1382,"f":1075,"g":1075,"h":1017},{"t":1612,"c":1612,"d":1612,"e":1612,"f":1075,"g":1075,"h":1132},
{"t":1616,"c":1612,"d":1612,"e":1612,"f":614,"g":614,"h":1132},{"t":1620,"c":1382,"d":1382,"e":1382,"f":844,"g":844,"h":1305},{"t":1624,"c":1497,"d":1497,"e":1497,"f":902,"g":902,"h":902},{"t":1628,"c":1612,"d":1612,"e":1612,"f":1017,"g":1017,"h":1017},
{"t":1632,"c":1248,"d":1248,"e":1248,"f":1017,"g":1017,"h":1382},{"t":1636,"c":1248,"d":1248,"e":1248,"f":614,"g":614,"h":1305},{"t":1640,"c":1612,"d":1612,"e":1612,"f":729,"g":729,"h":960},{"t":1644,"c":1497,"d":1497,"e":1497,"f":902,"g":902,"h":902},
{"t":1648,"c":1612,"d":1612,"e":1612,"f":1075,"g":1075,"h":1190},{"t":1652,"c":1132,"d":1132,"e":1132,"f":1075,"g":1075,"h":1248},{"t":1656,"c":1132,"d":1132,"e":1132,"f":902,"g":902,"h":902},{"t":1660,"c":1248,"d":1248,"e":1248,"f":729,"g":729,"h":960},
{"t":1664,"c":1612,"d":1612,"e":1612,"f":1950,"g":1950,"h":1075},{"t":1668,"c":1612,"d":1612,"e":1612,"f":1017,"g":1017,"h":1132},{"t":1672,"c":1248,"d":1248,"e":1248,"f":960,"g":960,"h":1248},{"t":1676,"c":1132,"d":1132,"e":1132,"f":960,"g":960,"h":1305},
{"t":1680,"c":1612,"d":1612,"e":1612,"f":1017,"g":1017,"h":902},{"t":1684,"c":1612,"d":1612,"e":1612,"f":960,"g":960,"h":1017},{"t":1688,"c":1612,"d":1612,"e":1612,"f":844,"g":844,"h":1305},{"t":1692,"c":1382,"d":1382,"e":1382,"f":1075,"g":1075,"h":1305},
{"t":1696,"c":1132,"d":1132,"e":1132,"f":1075,"g":1075,"h":1017},{"t":1700,"c":1612,"d":1612,"e":1612,"f":844,"g":844,"h":902},{"t":1704,"c":1612,"d":1612,"e":1612,"f":499,"g":499,"h":1132},{"t":1708,"c":1248,"d":1248,"e":1248,"f":1017,"g":1017,"h":1248},
{"t":1712,"c":1382,"d":1382,"e":1382,"f":902,"g":902,"h":902},{"t":1716,"c":1497,"d":1497,"e":1497,"f":614,"g":614,"h":960},{"t":1720,"c":1612,"d":1612,"e":1612,"f":2692,"g":2692,"h":1382},{"t":1724,"c":1132,"d":1132,"e":1132,"f":902,"g":902,"h":1132},
{"t":1728,"c":1497,"d":1497,"e":1497,"f":729,"g":729,"h":2692},{"t":1732,"c":1248,"d":1248,"e":1248,"f":1075,"g":1075,"h":1305},{"t":1736,"c":1248,"d":1248,"e":1248,"f":960,"g":960,"h":1190},{"t":1740,"c":1612,"d":1612,"e":1612,"f":729,"g":729,"h":1017},
{"t":1744,"c":1612,"d":1612,"e":1612,"f":1075,"g":1075,"h":902},{"t":1748,"c":1132,"d":1132,"e":1132,"f":1017,"g":1017,"h":1305},{"t":1752,"c":1612,"d":1612,"e":1612,"f":556,"g":614,"h":1075},{"t":1756,"c":1612,"d":1612,"e":1612,"f":960,"g":960,"h":902},
{"t":1760,"c":1132,"d":1132,"e":1132,"f":902,"g":902,"h":1248},{"t":1764,"c":1382,"d":1382,"e":1382,"f":960,"g":960,"h":1248},{"t":1768,"c":1612,"d":1612,"e":1612,"f":1017,"g":1017,"h":902},{"t":1772,"c":1612,"d":1612,"e":1612,"f":1075,"g":1075,"h":960},
{"t":1776,"c":1248,"d":1248,"e":1248,"f":1870,"g":1870,"h":1305},{"t":1780,"c":1248,"d":1248,"e":1248,"f":844,"g":844,"h":1132},{"t":1784,"c":1612,"d":1612,"e":1612,"f":1075,"g":1075,"h":1017},{"t":1788,"c":1497,"d":1497,"e":1497,"f":1017,"g":1017,"h":1305},
{"t":1792,"c":1612,"d":1612,"e":1612,"f":902,"g":902,"h":1132},{"t":1796,"c":1132,"d":1132,"e":1132,"f":614,"g":614,"h":1017},{"t":1800,"c":1132,"d":1132,"e":1132,"f":1830,"g":1830,"h":902},{"t":1804,"c":1248,"d":1248,"e":1248,"f":902,"g":902,"h":1305},
{"t":1808,"c":1612,"d":1612,"e":1612,"f":960,"g":960,"h":1382},{"t":1812,"c":1612,"d":1612,"e":1612,"f":1075,"g":1075,"h":902},{"t":1816,"c":1904,"d":1382,"e":1382,"f":1017,"g":1017,"h":960},{"t":1820,"c":1132,"d":1132,"e":1132,"f":729,"g":729,"h":1248},
{"t":1824,"c":1612,"d":1612,"e":1612,"f":844,"g":844,"h":1190},{"t":1828,"c":1612,"d":1612,"e":1612,"f":1017,"g":1017,"h":960},{"t":1832,"c":1497,"d":1497,"e":1497,"f":1075,"g":1075,"h":902},{"t":1836,"c":1382,"d":1382,"e":1382,"f":960,"g":960,"h":1132},
{"t":1840,"c":1248,"d":1248,"e":1248,"f":499,"g":499,"h":1075},{"t":1844,"c":1612,"d":1612,"e":1612,"f":960,"g":960,"h":1305},{"t":1848,"c":1612,"d":1612,"e":1612,"f":902,"g":902,"h":1248},{"t":1852,"c":1248,"d":1248,"e":1248,"f":1075,"g":1075,"h":1017},
{"t":1856,"c":1612,"d":1612,"e":1612,"f":1017,"g":1017,"h":2796},{"t":1860,"c":1497,"d":1497,"e":1497,"f":844,"g":844,"h":1305},{"t":1864,"c":1132,"d":1132,"e":1132,"f":729,"g":729,"h":1305},{"t":1868,"c":1132,"d":1132,"e":1132,"f":1017,"g":1017,"h":902},
{"t":1872,"c":1612,"d":1612,"e":1612,"f":960,"g":960,"h":1017},{"t":1876,"c":1248,"d":1248,"e":1248,"f":614,"g":614,"h":1248},{"t":1880,"c":1248,"d":1248,"e":1248,"f":2692,"g":2692,"h":1132},{"t":1884,"c":1612,"d":1612,"e":1612,"f":902,"g":902,"h":960},
{"t":1888,"c":2573,"d":1612,"e":1612,"f":614,"g":614,"h":2097},{"t":1892,"c":1132,"d":1132,"e":1132,"f":1075,"g":1075,"h":1132},{"t":1896,"c":1612,"d":1612,"e":1612,"f":902,"g":902,"h":1382},{"t":1900,"c":1612,"d":1612,"e":1612,"f":729,"g":729,"h":1305},
{"t":1904,"c":1132,"d":1132,"e":1132,"f":1017,"g":1017,"h":960},{"t":1908,"c":1382,"d":1382,"e":1382,"f":1017,"g":1017,"h":1017},{"t":1912,"c":1612,"d":1612,"e":1612,"f":729,"g":729,"h":3094},{"t":1916,"c":1612,"d":1612,"e":1612,"f":960,"g":960,"h":1305},
{"t":1920,"c":1382,"d":1382,"e":1382,"f":2692,"g":2692,"h":902},{"t":1924,"c":1248,"d":1248,"e":1248,"f":960,"g":960,"h":902},{"t":1928,"c":1612,"d":1612,"e":1612,"f":2573,"g":2573,"h":1075},{"t":1932,"c":1497,"d":1497,"e":1497,"f":1075,"g":1075,"h":1248},
{"t":1936,"c":1497,"d":1497,"e":1497,"f":2573,"g":2573,"h":1248},{"t":1940,"c":1132,"d":1132,"e":1132,"f":844,"g":844,"h":960},{"t":1944,"c":1248,"d":1248,"e":1248,"f":960,"g":960,"h":902}
]},
"layer":[
{"data":{"values":[{}]},"mark":{"type":"text","text":"PerfDog","font":"Liberation Serif","fontSize":17,"angle":338,"color":"#e4e4e4"},
 "encoding":{"x":{"datum":629,"type":"quantitative"},"y":{"datum":461,"type":"quantitative"}}},
{"data":{"values":[{}]},"mark":{"type":"text","text":"PerfDog","font":"Liberation Serif","fontSize":17,"angle":338,"color":"#e4e4e4"},
 "encoding":{"x":{"datum":1387,"type":"quantitative"},"y":{"datum":431,"type":"quantitative"}}},
{"data":{"values":[{}]},"mark":{"type":"text","text":"PerfDog","font":"Liberation Serif","fontSize":17,"angle":338,"color":"#e4e4e4"},
 "encoding":{"x":{"datum":-129,"type":"quantitative"},"y":{"datum":610,"type":"quantitative"}}},
{"data":{"values":[{"label":"label1"}]},"mark":{"type":"rect","color":"#e9566a"},
 "encoding":{"x":{"datum":-2,"type":"quantitative"},"x2":{"datum":1947},"y":{"datum":3733,"type":"quantitative"},"y2":{"datum":4120}}},
{"data":{"values":[{"label":"label1"}]},"mark":{"type":"text","color":"#ffffff","fontSize":10,"baseline":"middle","align":"center"},
 "encoding":{"x":{"datum":973,"type":"quantitative"},"y":{"datum":3927,"type":"quantitative"},"text":{"field":"label","type":"nominal"}}},
{"data":{"name":"little"},
 "transform":[{"fold":["a","b"],"as":["k","v"]}],
 "mark":{"type":"line","strokeWidth":1,"interpolate":"linear"},
 "encoding":{
  "x":{"field":"t","type":"quantitative","title":null},
  "y":{"field":"v","type":"quantitative","title":"MHz"},
  "color":{"field":"k","type":"nominal"}
 }},
{"data":{"name":"dense"},
 "transform":[{"fold":["c","d","e","f","g","h"],"as":["k","v"]}],
 "mark":{"type":"line","strokeWidth":1.1,"interpolate":"linear"},
 "encoding":{
  "x":{"field":"t","type":"quantitative","scale":{"domain":[0,1947],"nice":false,"zero":false},
   "axis":{"title":null,"values":[0,98,196,294,392,490,588,686,784,882,980,1078,1176,1274,1372,1470,1568,1666,1764,1862],"tickCount":40,
    "labelExpr":"utcFormat(datum.value*1000,'%M:%S')","grid":false,"domainColor":"#c8c8c8","tickColor":"#c8c8c8","tickSize":5,
    "labelFontSize":11.5,"labelColor":"#333333","labelPadding":3,"labelFlush":true,"labelOverlap":false}},
  "y":{"field":"v","type":"quantitative","scale":{"domain":[0,4120],"nice":false},
   "axis":{"title":"MHz","values":[0,311,622,933,1244,1556,1867,2178,2489,2800,3111,3421],"tickCount":24,
    "labelExpr":"datum.value < 1000 ? format(datum.value,'d') : format(datum.value/1000,'.3~r') + 'K'",
    "grid":false,"domain":false,"tickColor":"#999999","tickSize":5,"labelFontSize":11.5,"labelColor":"#333333","labelPadding":4,"labelOverlap":false,
    "titleFontSize":11.5,"titleFontWeight":"bold","titleColor":"#222222","titleX":-50,"titleY":175,"titleAngle":270,"titleAlign":"center","titleBaseline":"alphabetic"}},
  "color":{"field":"k","type":"nominal",
   "scale":{"domain":["a","b","c","d","e","f","g","h"],"range":["#6a73c8","#3d8ee8","#2fb0dc","#4caf86","#3cb55a","#8cc21e","#c04cc0","#e06a50"]},
   "legend":{"orient":"none","legendX":180,"legendY":331,"direction":"horizontal","columns":8,"title":null,"symbolType":"stroke","symbolSize":170,"symbolStrokeWidth":3.5,
    "labelFontSize":11.5,"labelColor":"#333333","labelOffset":10,"columnPadding":10,"padding":0,
    "labelExpr":"'Clock' + indexof('abcdefgh', datum.label)"}}
 }},
{"data":{"name":"markers"},"mark":{"type":"rule","color":"#d9473f","strokeWidth":2},
 "encoding":{"x":{"field":"t","type":"quantitative"},"y":{"datum":0,"type":"quantitative"},"y2":{"datum":3733}}},
{"data":{"name":"markers"},"mark":{"type":"text","align":"left","baseline":"alphabetic","dx":2.5,"fontSize":13,"lineHeight":17.5,"lineBreak":"\n","color":"#d4403c"},
 "encoding":{"x":{"field":"t","type":"quantitative"},"y":{"datum":3213,"type":"quantitative"},"text":{"field":"head","type":"nominal"}}},
{"data":{"name":"markers"},"mark":{"type":"text","align":"left","baseline":"alphabetic","dx":2.5,"fontSize":11.5,"lineHeight":15.2,"lineBreak":"\n","color":"#d4403c"},
 "encoding":{"x":{"field":"t","type":"quantitative"},"y":{"datum":2469,"type":"quantitative"},"text":{"field":"clocks","type":"nominal"}}},
{"data":{"values":[{}]},"mark":{"type":"rect","color":{"gradient":"linear","x1":0,"y1":0,"x2":0,"y2":1,"stops":[{"offset":0,"color":"#8dd3fa"},{"offset":0.3,"color":"#3aaef2"},{"offset":1,"color":"#2a9fe9"}]}},
 "encoding":{"x":{"datum":-2,"type":"quantitative"},"x2":{"datum":1945},"y":{"datum":-461,"type":"quantitative"},"y2":{"datum":-669}}},
{"data":{"values":[{}]},"mark":{"type":"rect","fill":"#ececec","stroke":"#a8a8a8","strokeWidth":1,"cornerRadius":2},
 "encoding":{"x":{"datum":-2,"type":"quantitative"},"x2":{"datum":38},"y":{"datum":-431,"type":"quantitative"},"y2":{"datum":-714}}},
{"data":{"values":[{}]},"mark":{"type":"rect","fill":"#ececec","stroke":"#a8a8a8","strokeWidth":1,"cornerRadius":2},
 "encoding":{"x":{"datum":1903,"type":"quantitative"},"x2":{"datum":1945},"y":{"datum":-431,"type":"quantitative"},"y2":{"datum":-714}}},
{"data":{"values":[{}]},"mark":{"type":"text","text":"III","fontSize":9,"color":"#666666","align":"center","baseline":"middle"},
 "encoding":{"x":{"datum":18,"type":"quantitative"},"y":{"datum":-572,"type":"quantitative"}}},
{"data":{"values":[{}]},"mark":{"type":"text","text":"III","fontSize":9,"color":"#666666","align":"center","baseline":"middle"},
 "encoding":{"x":{"datum":1924,"type":"quantitative"},"y":{"datum":-572,"type":"quantitative"}}}
]
}
